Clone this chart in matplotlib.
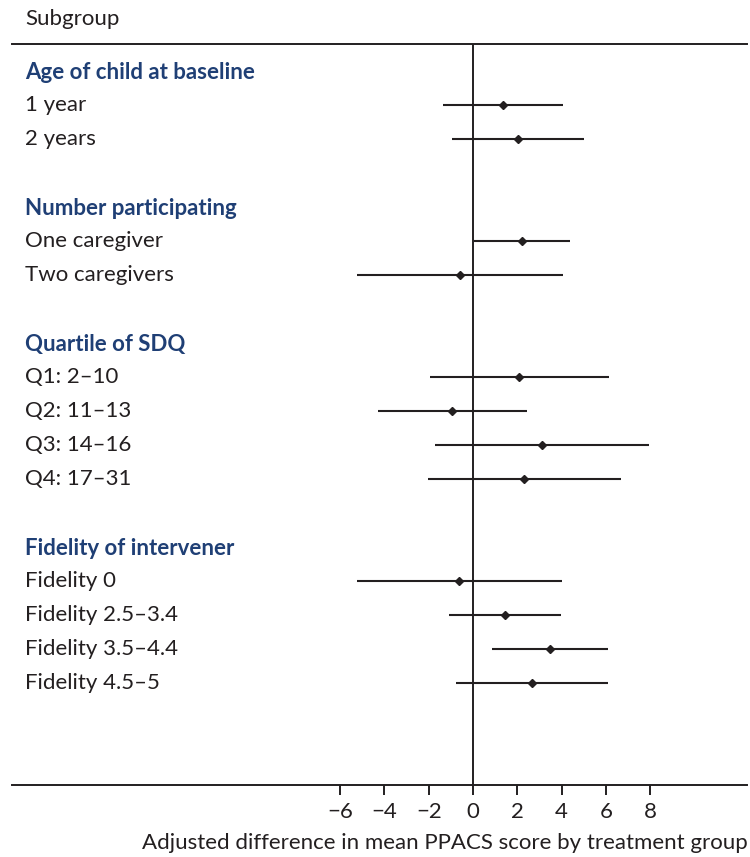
import matplotlib.pyplot as plt
import matplotlib.transforms as mtransforms

plt.rcParams['font.family'] = ['Lato', 'DejaVu Sans']

groups = ['Age of child at baseline', 'Number participating',
          'Quartile of SDQ', 'Fidelity of intervener']
subgroups = [
    ['1 year', '2 years'],
    ['One caregiver', 'Two caregivers'],
    ['Q1: 2\u201310', 'Q2: 11\u201313', 'Q3: 14\u201316', 'Q4: 17\u201331'],
    ['Fidelity 0', 'Fidelity 2.5\u20133.4', 'Fidelity 3.5\u20134.4', 'Fidelity 4.5\u20135'],
]
estimate = [[1.34, 2.05], [2.2, -0.59], [2.09, -0.95, 3.1, 2.32], [-0.63, 1.44, 3.48, 2.68]]
lower = [[-1.35, -0.93], [0.03, -5.22], [-1.94, -4.29, -1.73, -2.02], [-5.25, -1.07, 0.87, -0.75]]
upper = [[4.05, 5.03], [4.38, 4.06], [6.13, 2.44, 7.96, 6.68], [4.0, 3.96, 6.11, 6.09]]
ticks = [-6, -4, -2, 0, 2, 4, 6, 8]

header_col = '#1f3f75'
text_col = '#231f20'
fs = 16


def main():
    fig = plt.figure(figsize=(7.5, 8.57), dpi=100)
    ax = fig.add_axes([12 / 750, 1 - 785 / 857, 735 / 750, (785 - 44) / 857])
    trans = mtransforms.blended_transform_factory(ax.transAxes, ax.transData)

    row = 0
    for g, name in enumerate(groups):
        ax.text(0.0177, row + 0.03, name, transform=trans, fontsize=fs, fontweight='bold',
                color=header_col, va='center', ha='left')
        row += 1
        for i, lab in enumerate(subgroups[g]):
            ax.text(0.0177, row, lab, transform=trans, fontsize=fs,
                    color=text_col, va='center', ha='left')
            ax.hlines(row, lower[g][i], upper[g][i], color='#231f20', lw=1.5, zorder=3)
            ax.plot(estimate[g][i], row, 'D', color='#231f20', ms=4.5, zorder=4)
            row += 1
        row += 1

    top, bottom = -0.80, 21.0
    ax.set_ylim(bottom, top)
    ax.set_xlim((12 - 473) / 22.15, (747 - 473) / 22.15)
    ax.vlines(0, top, bottom, color='#231f20', lw=1.4, zorder=2)

    for s in ['left', 'right']:
        ax.spines[s].set_visible(False)
    for s in ['top', 'bottom']:
        ax.spines[s].set_linewidth(1.4)
        ax.spines[s].set_color('#231f20')

    ax.set_yticks([])
    ax.set_xticks(ticks)
    ax.set_xticklabels(['\u2212%d' % -t if t < 0 else str(t) for t in ticks])
    ax.tick_params(axis='x', direction='out', length=7, width=1.4, color='#231f20',
                   labelsize=fs, labelcolor=text_col, pad=5)

    fig.text(25 / 750, 1 - 19 / 857, 'Subgroup', fontsize=fs, color=text_col,
             ha='left', va='center')
    fig.text(748 / 750, 1 - 843 / 857,
             'Adjusted difference in mean PPACS score by treatment group',
             fontsize=fs, color=text_col, ha='right', va='center')

    fig.savefig('out.png', dpi=100)


if __name__ == '__main__':
    main()
